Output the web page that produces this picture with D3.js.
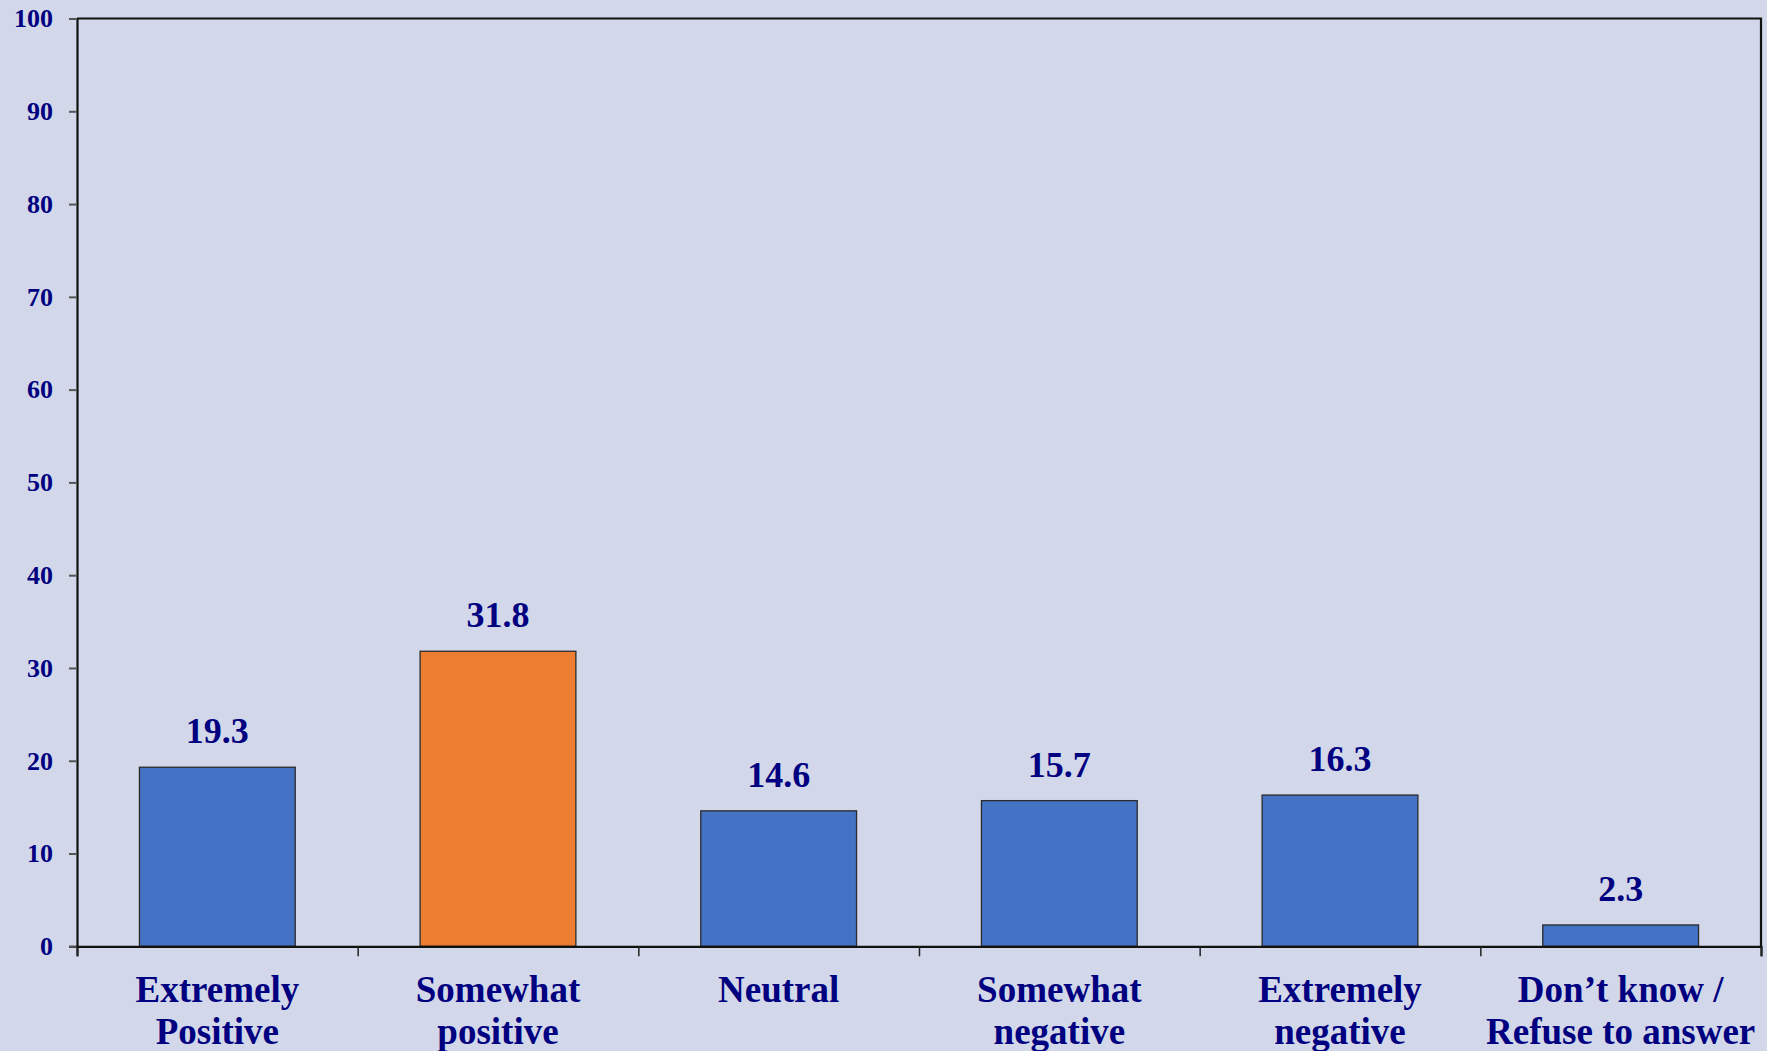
<!DOCTYPE html>
<html>
<head>
<meta charset="utf-8">
<script src="https://cdn.jsdelivr.net/npm/d3@7"></script>
<style>
  html, body { margin: 0; padding: 0; background: #D2D8EA; }
  svg { display: block; }
  text { font-family: "Liberation Serif", "Times New Roman", serif; font-weight: bold; fill: #000080; }
</style>
</head>
<body>
<svg id="chart" width="1767" height="1051"></svg>
<script>
const categories = [
  ["Extremely", "Positive"],
  ["Somewhat", "positive"],
  ["Neutral"],
  ["Somewhat", "negative"],
  ["Extremely", "negative"],
  ["Don\u2019t know /", "Refuse to answer"]
];
const values = [19.3, 31.8, 14.6, 15.7, 16.3, 2.3];
const barColors = ["#4472C4", "#ED7D31", "#4472C4", "#4472C4", "#4472C4", "#4472C4"];
const yTicks = [0, 10, 20, 30, 40, 50, 60, 70, 80, 90, 100];

(function () {
const W = 1767, H = 1051;
const pL = 77, pR = 1761, pT = 18.5, pB = 946.3;

const svg = d3.select("#chart");
svg.append("rect").attr("width", W).attr("height", H).attr("fill", "#D2D8EA");

const idx = categories.map((d, i) => i);
const x = d3.scaleBand().domain(idx).range([pL, pR]).paddingInner(0.445).paddingOuter(0.2225);
const xEdge = d3.scaleLinear().domain([0, categories.length]).range([pL, pR]);
const y = d3.scaleLinear().domain([0, 100]).range([pB, pT]);

// frame (top & right)
svg.append("path")
  .attr("d", `M${pL},${pT}H${pR}V${pB}`)
  .attr("fill", "none").attr("stroke", "#111").attr("stroke-width", 2.2);

// bars
svg.selectAll("rect.bar").data(values).join("rect")
  .attr("class", "bar")
  .attr("x", (d, i) => x(i))
  .attr("width", x.bandwidth())
  .attr("y", d => y(d))
  .attr("height", d => y(0) - y(d))
  .attr("fill", (d, i) => barColors[i])
  .attr("stroke", "#2a2a2a").attr("stroke-width", 1.3);

// value labels
svg.selectAll("text.val").data(values).join("text")
  .attr("class", "val")
  .attr("x", (d, i) => x(i) + x.bandwidth() / 2)
  .attr("y", d => y(d) - 24)
  .attr("text-anchor", "middle")
  .attr("font-size", 36)
  .text(d => d.toFixed(1));

// y axis
const yAxis = d3.axisLeft(y).tickValues(yTicks).tickSize(8).tickPadding(16);
const gy = svg.append("g").attr("transform", `translate(${pL},0)`).call(yAxis);
gy.select(".domain").attr("stroke", "#111").attr("stroke-width", 2.2);
gy.selectAll(".tick line").attr("stroke", "#555").attr("stroke-width", 2);
gy.selectAll(".tick text")
  .attr("font-size", 26)
  .attr("font-family", "Liberation Serif, Times New Roman, serif")
  .attr("font-weight", "bold")
  .attr("fill", "#000080");

// x axis line
const xAxis = d3.axisBottom(xEdge).tickValues(d3.range(categories.length + 1)).tickSize(10).tickFormat("");
const gx = svg.append("g").attr("transform", `translate(0,${pB})`).call(xAxis);
gx.select(".domain").attr("stroke", "#111").attr("stroke-width", 2.2);
gx.selectAll(".tick line").attr("stroke", "#222").attr("stroke-width", 1.5);

// category labels
const lab = svg.selectAll("text.cat").data(categories).join("text")
  .attr("class", "cat")
  .attr("text-anchor", "middle")
  .attr("font-size", 37)
  .attr("x", (d, i) => x(i) + x.bandwidth() / 2)
  .attr("y", 1001.7);
lab.selectAll("tspan").data(d => d).join("tspan")
  .attr("x", function() { return d3.select(this.parentNode).attr("x"); })
  .attr("dy", (d, j) => j === 0 ? 0 : 42)
  .text(d => d);
})();
</script>
</body>
</html>
